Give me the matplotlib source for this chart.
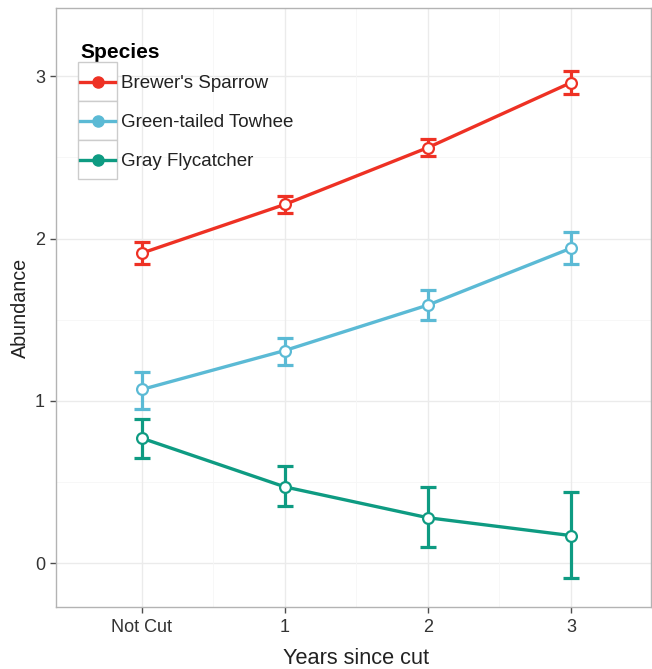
import matplotlib
matplotlib.use("Agg")
import matplotlib.pyplot as plt
from matplotlib.lines import Line2D
from matplotlib.patches import Rectangle

plt.rcParams['font.family'] = ['Liberation Sans', 'DejaVu Sans']

categories = ["Not Cut", "1", "2", "3"]
species = ["Brewer's Sparrow", "Green-tailed Towhee", "Gray Flycatcher"]
colors = ["#EE3124", "#5BBAD5", "#0E9B82"]

sparrow_mean = [1.91, 2.21, 2.56, 2.96]
sparrow_lo = [1.84, 2.16, 2.51, 2.89]
sparrow_hi = [1.98, 2.26, 2.61, 3.03]

towhee_mean = [1.07, 1.31, 1.59, 1.94]
towhee_lo = [0.95, 1.22, 1.50, 1.84]
towhee_hi = [1.18, 1.39, 1.68, 2.04]

flycatcher_mean = [0.77, 0.47, 0.28, 0.17]
flycatcher_lo = [0.65, 0.35, 0.10, -0.09]
flycatcher_hi = [0.89, 0.60, 0.47, 0.44]

series = [
    (sparrow_mean, sparrow_lo, sparrow_hi),
    (towhee_mean, towhee_lo, towhee_hi),
    (flycatcher_mean, flycatcher_lo, flycatcher_hi),
]

W, H = 652, 669
fig = plt.figure(figsize=(W/100, H/100), dpi=100)
ax = fig.add_axes([56/W, 1-607/H, (651-56)/W, (607-8)/H])

def fx(px):
    return px / W

def fy(py):
    return 1 - py / H

x = list(range(len(categories)))
ax.set_xlim(-0.6, 3.56)
ax.set_ylim(-0.27, 3.42)

# grid
for v in [0, 1, 2, 3]:
    ax.axhline(v, color="#EBEBEB", lw=1.0, zorder=0)
for v in [0.5, 1.5, 2.5]:
    ax.axhline(v, color="#F6F6F6", lw=0.6, zorder=0)
for v in x:
    ax.axvline(v, color="#EBEBEB", lw=1.0, zorder=0)
for v in [0.5, 1.5, 2.5]:
    ax.axvline(v, color="#F6F6F6", lw=0.6, zorder=0)

for (m, lo, hi), c, name in zip(series, colors, species):
    yerr = [[mi - l for mi, l in zip(m, lo)], [h - mi for mi, h in zip(m, hi)]]
    ax.errorbar(x, m, yerr=yerr, fmt="none", ecolor=c, elinewidth=2.3,
                capsize=6, capthick=2.3, zorder=3)
    ax.plot(x, m, color=c, lw=2.4, zorder=4)
    ax.plot(x, m, "o", ms=7.8, mfc="white", mec=c, mew=1.6, ls="none", zorder=5)

ax.set_xticks(x)
ax.set_xticklabels(categories)
ax.set_yticks([0, 1, 2, 3])
ax.tick_params(axis="both", labelsize=13, colors="#4D4D4D", length=4, width=1,
               labelcolor="#333333")
ax.tick_params(axis="x", pad=5)
ax.tick_params(axis="y", pad=4)
for s in ax.spines.values():
    s.set_color("#B3B3B3")
    s.set_linewidth(1.0)

ax.set_xlabel("Years since cut", fontsize=15.7, color="#222222")
ax.xaxis.set_label_coords((356-56)/595, (607-648)/599)
ax.set_ylabel("Abundance", fontsize=14.2, color="#222222")
ax.yaxis.set_label_coords((30-56)/595, 0.5)

# legend (manual, ggplot-style key boxes)
fig.text(fx(80), fy(57.7), "Species", fontsize=15, fontweight="bold",
         color="black", ha="left", va="baseline")
for i, (c, name) in enumerate(zip(colors, species)):
    y0 = 62 + i * 39
    yc = y0 + 19.5
    fig.add_artist(Rectangle((fx(78), fy(y0 + 39)), 39/W, 39/H,
                             transform=fig.transFigure, facecolor="white",
                             edgecolor="#CCCCCC", lw=1.0, zorder=6))
    fig.add_artist(Line2D([fx(80), fx(115)], [fy(yc), fy(yc)], color=c, lw=2.4,
                          transform=fig.transFigure, zorder=7))
    fig.add_artist(Line2D([fx(97.5)], [fy(yc)], color=c, marker="o", ms=8,
                          mfc=c, mec=c, ls="none",
                          transform=fig.transFigure, zorder=8))
    fig.text(fx(121), fy(yc), name, fontsize=13.5, color="#222222",
             ha="left", va="center_baseline", zorder=8)

fig.savefig("out.png", dpi=100)
